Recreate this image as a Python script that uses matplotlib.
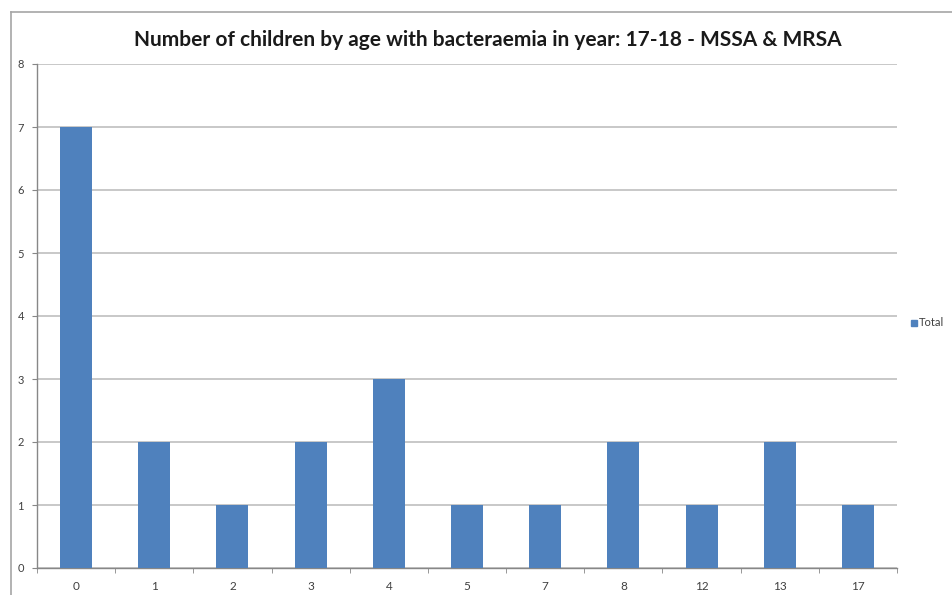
import matplotlib
matplotlib.use("Agg")
import matplotlib.pyplot as plt
from matplotlib.lines import Line2D

ages = ["0", "1", "2", "3", "4", "5", "7", "8", "12", "13", "17"]
totals = [7, 2, 1, 2, 3, 1, 1, 2, 1, 2, 1]
y_ticks = [0, 1, 2, 3, 4, 5, 6, 7, 8]

bar_color = "#4F81BD"
grid_color = "#BFBFBF"
axis_color = "#878787"
text_color = "#404040"

plt.rcParams["font.family"] = ["Lato", "DejaVu Sans"]

fig = plt.figure(figsize=(9.52, 5.95), dpi=100)
ax = fig.add_axes([37 / 952, 27 / 595, 860 / 952, 504 / 595])

x = list(range(len(ages)))
bars = ax.bar(x, totals, width=0.41, color=bar_color, label="Total", zorder=3)

ax.set_xlim(-0.5, len(ages) - 0.5)
ax.set_ylim(0, 8)
ax.set_yticks(y_ticks)
ax.set_yticklabels([str(v) for v in y_ticks], fontsize=8, color=text_color)
ax.set_xticks(x)
ax.set_xticklabels(ages, fontsize=8.5, color=text_color)
ax.set_xticks([i + 0.5 for i in range(-1, len(ages))], minor=True)

ax.yaxis.grid(True, color=grid_color, linewidth=1.2, zorder=0)
ax.set_axisbelow(True)

for side in ["top", "right"]:
    ax.spines[side].set_visible(False)
for side in ["left", "bottom"]:
    ax.spines[side].set_color(axis_color)
    ax.spines[side].set_linewidth(1.0)

ax.tick_params(axis="y", which="major", length=3.6, color=axis_color, pad=5.8)
ax.tick_params(axis="x", which="major", length=0, pad=9)
ax.tick_params(axis="x", which="minor", length=3.6, color=axis_color)

fig.text(488 / 952, 1 - 40 / 595,
         "Number of children by age with bacteraemia in year: 17-18 - MSSA & MRSA",
         ha="center", va="center", fontsize=15, fontweight="bold", color="#1a1a1a")

handle = Line2D([], [], marker="s", linestyle="none", markersize=5,
                markerfacecolor=bar_color, markeredgecolor=bar_color)
fig.legend([handle], ["Total"], loc="center left",
           bbox_to_anchor=(910 / 952, 1 - 323 / 595), frameon=False,
           fontsize=8, handletextpad=0.0, handlelength=0.8,
           labelcolor=text_color, borderaxespad=0, borderpad=0)

# outer chart frame
frame_color = "#A6A6A6"
fig.add_artist(Line2D([11 / 952, 11 / 952], [0, 1 - 12 / 595],
                      transform=fig.transFigure, color=frame_color, linewidth=1.2))
fig.add_artist(Line2D([11 / 952, 1], [1 - 12 / 595, 1 - 12 / 595],
                      transform=fig.transFigure, color=frame_color, linewidth=1.2))

fig.savefig("out.png", dpi=100)
